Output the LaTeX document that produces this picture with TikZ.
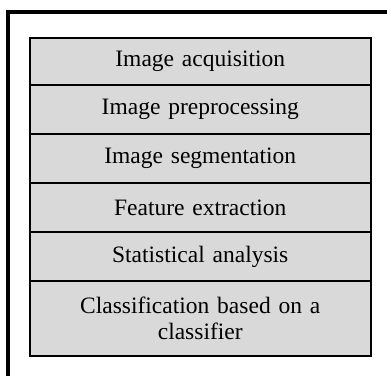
\documentclass[tikz,border=0pt]{standalone}
\usepackage{fontspec}
\setmainfont{Liberation Serif}
\definecolor{rowfill}{HTML}{D9D9D9}
\begin{document}
\begin{tikzpicture}[x=1bp,y=-1bp,
  rowbox/.style={draw=black, line width=2bp, fill=rowfill, inner sep=0pt,
    minimum width=340.5bp, align=center, text width=320bp,
    font=\fontsize{23.5bp}{26bp}\selectfont},
  framebar/.style={line width=4bp}]
\useasboundingbox (0,0) rectangle (387,376);
\coordinate (ftop) at (6,12);
\coordinate (fright) at (387,12);
\coordinate (fbot) at (8,376);
\coordinate (fcorner) at (8,12);
\draw[framebar] (ftop) -- (fright);
\draw[framebar] (fcorner) -- (fbot);
\node[rowbox, minimum height=47bp, anchor=north] (r1) at (200.25,37) {Image acquisition};
\node[rowbox, minimum height=49bp, anchor=north] (r2) at (200.25,84) {Image preprocessing};
\node[rowbox, minimum height=49bp, anchor=north] (r3) at (200.25,133) {Image segmentation};
\node[rowbox, minimum height=49bp, anchor=north] (r4) at (200.25,182) {Feature extraction};
\node[rowbox, minimum height=49bp, anchor=north] (r5) at (200.25,231) {Statistical analysis};
\node[rowbox, minimum height=75bp, anchor=north] (r6) at (200.25,280) {Classification based on a\\classifier};
\end{tikzpicture}
\end{document}
